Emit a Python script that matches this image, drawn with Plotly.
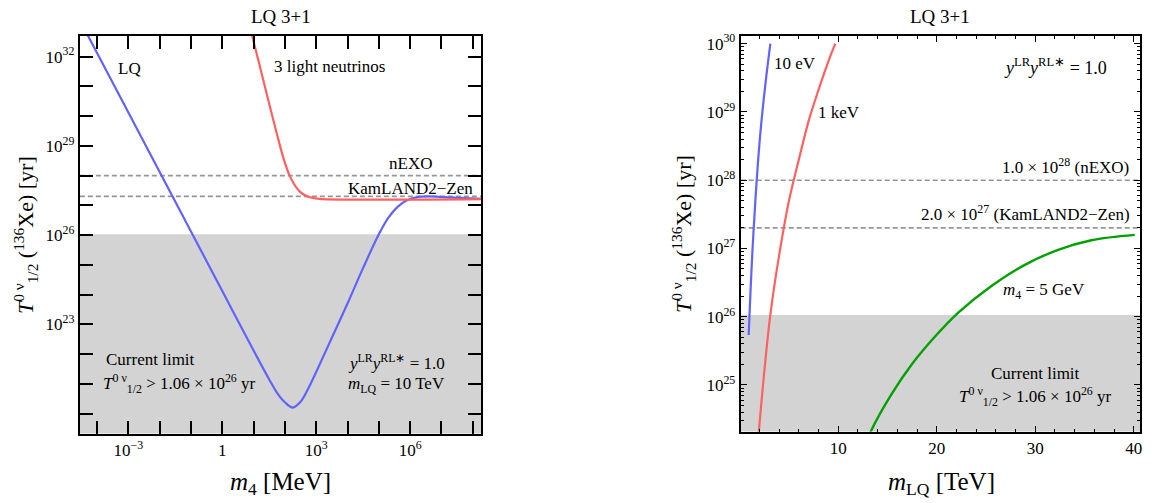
import plotly.graph_objects as go

W, H = 1153, 503

# ---------------- data ----------------
# Left panel: T_1/2 vs m4 [MeV], m_LQ = 10 TeV
LQ_M4_MEV = [3.98e-5, 1e-3, 1e-2, 0.1, 1, 10, 31.6, 56.2, 100, 178, 316, 562,
             1000, 3160, 1e4, 3.16e4, 1.05e5, 2.0e5, 3.98e5, 7.94e5, 1.58e6,
             3.98e6, 1.58e7, 2e8]
LQ_T_YR = [8.3e32, 1.32e30, 1.32e28, 1.32e26, 1.32e24, 1.32e22, 1.41e21, 5.0e20,
           2.4e20, 1.6e20, 2.5e20, 7.1e20, 2.5e21, 3.55e22, 5.0e23, 7.9e24,
           1.17e26, 3.8e26, 8.9e26, 1.48e27, 1.86e27, 2.0e27, 1.86e27, 1.66e27]

NU3_M4_MEV = [7.94, 9.12, 15.5, 28.2, 52.5, 89.1, 141, 224, 355, 631, 1260, 2e8]
NU3_T_YR = [8.9e32, 4.7e32, 5.2e31, 4.1e30, 3.16e29, 4.0e28, 1.0e28, 4.2e27,
            2.5e27, 1.86e27, 1.66e27, 1.62e27]

# Right panel: T_1/2 vs m_LQ [TeV]
EV10_MLQ = [0.91, 1.0, 1.2, 1.4, 1.7, 2.1, 2.6, 3.11]
EV10_T = [5.4e25, 1.12e26, 5.0e26, 1.78e27, 8.9e27, 5.0e28, 2.5e29, 1.0e30]

KEV1_MLQ = [1.93, 2.5, 3.11, 4.0, 5.0, 6.0, 7.0, 8.0, 9.0, 9.7]
KEV1_T = [2.0e24, 1.6e25, 1.07e26, 7.9e26, 5.0e27, 2.0e28, 7.4e28, 2.1e29, 5.5e29, 1.0e30]

GEV5_MLQ = [13.1, 13.34, 15.43, 17.46, 19.83, 22.19, 25.56, 28.95, 32.32, 35.7, 40.1]
GEV5_T = [1.75e24, 2.14e24, 7.41e24, 2.0e25, 5.13e25, 1.15e26, 2.82e26, 5.75e26,
          9.55e26, 1.32e27, 1.58e27]

CURRENT_LIMIT = 1.06e26
NEXO = 1.0e28
KL2Z = 2.0e27

LEFT_X_TICKS = [10.0 ** k for k in range(-4, 9)]
LEFT_X_LABELS = {-3: "10<sup>−3</sup>", 0: "1", 3: "10<sup>3</sup>", 6: "10<sup>6</sup>"}
LEFT_Y_TICKS = [10.0 ** k for k in range(20, 33)]
LEFT_Y_LABELS = {23: "10<sup>23</sup>", 26: "10<sup>26</sup>", 29: "10<sup>29</sup>", 32: "10<sup>32</sup>"}
RIGHT_Y_TICKS = [10.0 ** k for k in range(25, 31)]
RIGHT_X_TICKS = [10, 20, 30, 40]

BLUE = "rgb(98,98,255)"
RED = "rgb(255,96,96)"
GREEN = "rgb(0,160,0)"
GRAY = "rgb(211,211,211)"
DASH = "rgb(150,150,150)"
FONT = "Liberation Serif"


def px(x):
    return x / W


def py(y):
    return 1 - y / H


fig = go.Figure()

line_kw = dict(mode="lines", hoverinfo="skip", line_shape="spline")
fig.add_trace(go.Scatter(x=LQ_M4_MEV, y=LQ_T_YR, line=dict(color=BLUE, width=2.2),
                         xaxis="x", yaxis="y", **line_kw))
fig.add_trace(go.Scatter(x=NU3_M4_MEV, y=NU3_T_YR, line=dict(color=RED, width=2.2),
                         xaxis="x", yaxis="y", **line_kw))
fig.add_trace(go.Scatter(x=EV10_MLQ, y=EV10_T, line=dict(color=BLUE, width=2.2),
                         xaxis="x2", yaxis="y2", **line_kw))
fig.add_trace(go.Scatter(x=KEV1_MLQ, y=KEV1_T, line=dict(color=RED, width=2.2),
                         xaxis="x2", yaxis="y2", **line_kw))
fig.add_trace(go.Scatter(x=GEV5_MLQ, y=GEV5_T, line=dict(color=GREEN, width=2.4),
                         xaxis="x2", yaxis="y2", **line_kw))

shapes = []
for xr, yr, ybot in (("x", "y", 1e18), ("x2", "y2", 1e23)):
    shapes.append(dict(type="rect", xref=xr + " domain", yref=yr, x0=0, x1=1,
                       y0=ybot, y1=CURRENT_LIMIT, fillcolor=GRAY, line_width=0,
                       layer="below"))
    for v in (NEXO, KL2Z):
        shapes.append(dict(type="line", xref=xr + " domain", yref=yr, x0=0, x1=1,
                           y0=v, y1=v, line=dict(color=DASH, width=1.6, dash="5px,3px"),
                           layer="below"))

axis_common = dict(showline=True, linewidth=2, linecolor="black", mirror="ticks",
                   showgrid=False, zeroline=False, ticks="inside", tickcolor="black",
                   tickfont=dict(family=FONT, size=17, color="black"))

fig.update_layout(
    width=W, height=H, margin=dict(l=0, r=0, t=0, b=0),
    plot_bgcolor="white", paper_bgcolor="white", showlegend=False,
    font=dict(family=FONT, size=17, color="black"),
    shapes=shapes,
    xaxis=dict(type="log", domain=[px(80), px(482)], range=[-4.55, 8.27], anchor="y",
               tickmode="array", tickvals=LEFT_X_TICKS,
               ticktext=[LEFT_X_LABELS.get(k, "") for k in range(-4, 9)],
               ticklen=13, tickwidth=1.6, **axis_common),
    yaxis=dict(type="log", domain=[py(433), py(32)], range=[19.33, 32.7], anchor="x",
               tickmode="array", tickvals=LEFT_Y_TICKS,
               ticktext=[LEFT_Y_LABELS.get(k, "") for k in range(20, 33)],
               ticklen=13, tickwidth=1.6, **axis_common),
    xaxis2=dict(domain=[px(742), px(1142)], range=[0.1, 40.64], anchor="y2",
                tickmode="array", tickvals=RIGHT_X_TICKS,
                ticklen=6, tickwidth=1.2,
                minor=dict(dtick=2, tick0=0, ticks="inside", ticklen=3, tickcolor="black", tickwidth=1),
                **axis_common),
    yaxis2=dict(type="log", domain=[py(431), py(32)], range=[24.317, 30.116], anchor="x2",
                tickmode="array", tickvals=RIGHT_Y_TICKS,
                ticktext=["10<sup>%d</sup>" % k for k in range(25, 31)],
                ticklen=6, tickwidth=1.2,
                minor=dict(dtick="D1", ticks="inside", ticklen=3, tickcolor="black", tickwidth=1),
                **axis_common),
)


def ann(text, x, y, size=17, xanchor="center", angle=0):
    fig.add_annotation(text=text, x=px(x), y=py(y), xref="paper", yref="paper",
                       showarrow=False, xanchor=xanchor, yanchor="middle",
                       textangle=angle, font=dict(family=FONT, size=size, color="black"))


T_LABEL = "<i>T</i><sup>0 ν</sup><sub>1/2</sub>"

# titles
ann("LQ 3+1", 281, 13, size=19)
ann("LQ 3+1", 942, 13, size=19)

# axis titles
ann("<i>m</i><sub>4</sub> [MeV]", 281, 483, size=25)
ann("<i>m</i><sub>LQ</sub> [TeV]", 943, 483, size=25)
ann(T_LABEL + " (<sup>136</sup>Xe) [yr]", 25, 233, size=22, angle=-90)
ann(T_LABEL + " (<sup>136</sup>Xe) [yr]", 684, 232, size=22, angle=-90)

# left panel labels
ann("LQ", 130, 65)
ann("3 light neutrinos", 330, 63)
ann("nEXO", 411, 161)
ann("KamLAND2−Zen", 411, 186)
ann("Current limit", 151, 358)
ann(T_LABEL + " > 1.06 × 10<sup>26</sup> yr", 180, 383)
ann("<i>y</i><sup>LR</sup><i>y</i><sup>RL∗</sup> = 1.0", 397, 361)
ann("<i>m</i><sub>LQ</sub> = 10 TeV", 397, 384)

# right panel labels
ann("10 eV", 796, 60)
ann("1 keV", 840, 109)
ann("<i>y</i><sup>LR</sup><i>y</i><sup>RL∗</sup> = 1.0", 1057, 63, size=18)
ann("1.0 × 10<sup>28</sup> (nEXO)", 1133, 163, xanchor="right")
ann("2.0 × 10<sup>27</sup> (KamLAND2−Zen)", 1134, 211, xanchor="right")
ann("<i>m</i><sub>4</sub> = 5 GeV", 1046, 289)
ann("Current limit", 1037, 372)
ann(T_LABEL + " > 1.06 × 10<sup>26</sup> yr", 1037, 396)

fig.write_html("out.html", config={"displayModeBar": False},
               post_script="document.body.style.margin='0px';")
